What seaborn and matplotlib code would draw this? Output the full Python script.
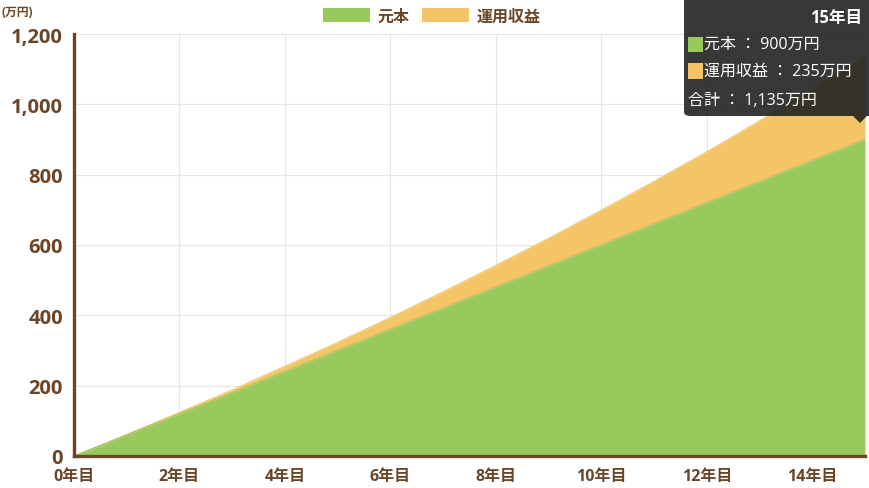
import numpy as np
import pandas as pd
import seaborn as sns
import matplotlib
matplotlib.use("Agg")
import matplotlib.pyplot as plt
from matplotlib.patches import FancyBboxPatch, Polygon, Rectangle, Patch

years = list(range(0, 16))
principal = [0, 60, 120, 180, 240, 300, 360, 420, 480, 540, 600, 660, 720, 780, 840, 900]
returns = [0, 1, 4, 8, 15, 23, 34, 47, 62, 79, 99, 121, 145, 173, 202, 235]
series_names = ["元本", "運用収益"]
xtick_years = [0, 2, 4, 6, 8, 10, 12, 14]
xtick_labels = [f"{y}年目" for y in xtick_years]
yticks = [0, 200, 400, 600, 800, 1000, 1200]
ytick_labels = ["0", "200", "400", "600", "800", "1,000", "1,200"]
tooltip_title = "15年目"
tooltip_lines = ["元本 ： 900万円", "運用収益 ： 235万円", "合計 ： 1,135万円"]

GREEN = "#97c95c"
ORANGE = "#f3c566"
BROWN = "#6b4526"

sns.set_theme(style="white")
FAM = ["Open Sans", "Noto Sans CJK JP", "DejaVu Sans"]
plt.rcParams["font.family"] = FAM

df = pd.DataFrame({"year": years, "principal": principal, "returns": returns})
df["total"] = df["principal"] + df["returns"]

fig = plt.figure(figsize=(8.7, 4.89), dpi=100)
ax = fig.add_axes([74 / 870, 32 / 489, (865 - 74) / 870, (457 - 35) / 489])

ax.fill_between(df["year"], 0, df["principal"], color=GREEN, linewidth=0, zorder=2)
ax.fill_between(df["year"], df["principal"], df["total"], color=ORANGE, linewidth=0, zorder=2)
sns.lineplot(data=df, x="year", y="total", ax=ax, color=ORANGE, linewidth=0.8, zorder=2)
sns.lineplot(data=df, x="year", y="principal", ax=ax, color=GREEN, linewidth=0.8, zorder=2)

ax.set_xlim(0, 15)
ax.set_ylim(0, 1200)
ax.set_xticks(xtick_years)
ax.set_xticklabels(xtick_labels, fontsize=11.5, fontweight="bold", color=BROWN)
ax.set_yticks(yticks)
ax.set_yticklabels(ytick_labels, fontsize=14.5, fontweight="bold", color=BROWN)
ax.set_xlabel("")
ax.set_ylabel("")
ax.grid(True, color="#e6e6e6", linewidth=0.8, zorder=0)
ax.set_axisbelow(True)
for s in ["top", "right"]:
    ax.spines[s].set_visible(False)
for s in ["left", "bottom"]:
    ax.spines[s].set_color(BROWN)
    ax.spines[s].set_linewidth(2.4)
    ax.spines[s].set_zorder(5)
ax.tick_params(axis="y", length=0, pad=8)
ax.tick_params(axis="x", length=0, pad=9)

# unit label
fig.text(2 / 870, 1 - 12 / 489, "(万円)", fontsize=8.5, fontweight="bold", color=BROWN,
         ha="left", va="center")

# legend
handles = [Patch(facecolor=GREEN, edgecolor="none"), Patch(facecolor=ORANGE, edgecolor="none")]
fig.legend(handles, series_names, loc="center", bbox_to_anchor=(432 / 870, 1 - 17 / 489),
           ncol=2, frameon=False, handlelength=2.9, handleheight=1.0, handletextpad=0.5,
           columnspacing=0.8, prop={"size": 11.5, "weight": "bold"}, labelcolor=BROWN)

# tooltip
W, H = 870, 489
def fx(x): return x / W
def fy(y): return 1 - y / H
box = FancyBboxPatch((fx(684), fy(117)), fx(870 - 684) + 0.02, 117 / H + 0.02,
                     boxstyle="round,pad=0,rounding_size=0.008",
                     transform=fig.transFigure, facecolor="#222222", alpha=0.9,
                     edgecolor="none", zorder=10)
fig.patches.append(box)
tri = Polygon([(fx(853), fy(117)), (fx(867), fy(117)), (fx(860), fy(124))], closed=True,
              transform=fig.transFigure, facecolor="#222222", alpha=0.9, edgecolor="none", zorder=10)
fig.patches.append(tri)
fig.text(fx(862), fy(18), tooltip_title, fontsize=12, fontweight="bold", color="white",
         ha="right", va="center", zorder=11)
for i, (c, yy) in enumerate([(GREEN, 45), (ORANGE, 72)]):
    sq = Rectangle((fx(688), fy(yy + 7.5)), 15 / W, 15 / H, transform=fig.transFigure,
                   facecolor=c, edgecolor="none", zorder=11)
    fig.patches.append(sq)
    fig.text(fx(704), fy(yy), tooltip_lines[i], fontsize=11.5, color="white",
             ha="left", va="center", zorder=11)
fig.text(fx(688), fy(101), tooltip_lines[2], fontsize=11.5, color="white",
         ha="left", va="center", zorder=11)

fig.savefig("out.png", dpi=100)
